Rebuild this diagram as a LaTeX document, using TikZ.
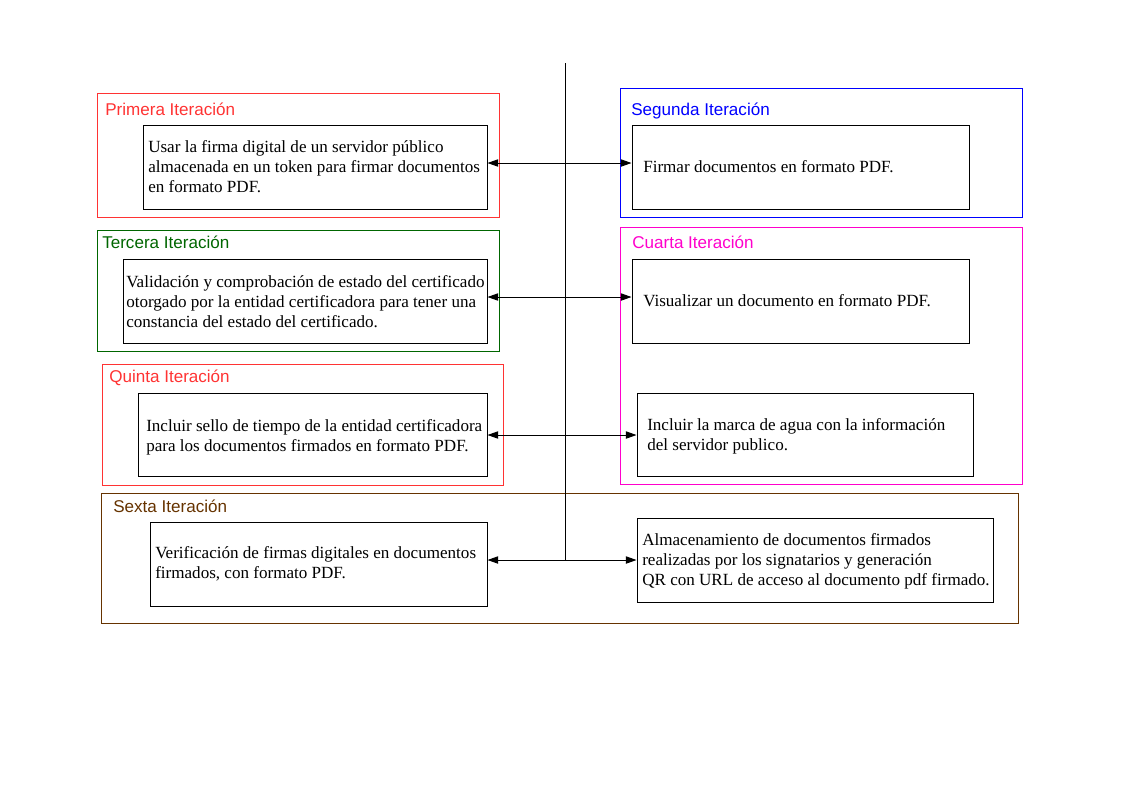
\documentclass[tikz,border=0pt]{standalone}
\usepackage{fontspec}
\setmainfont{Liberation Serif}
\newfontfamily\itersans{Liberation Sans}
\usepackage{tikz}
\usetikzlibrary{positioning,fit,arrows.meta}

\definecolor{itred}{HTML}{FF3333}
\definecolor{itblue}{HTML}{0000FF}
\definecolor{itgreen}{HTML}{006600}
\definecolor{itmagenta}{HTML}{FF00CC}
\definecolor{itbrown}{HTML}{663300}

\begin{document}
\begin{tikzpicture}[x=0.75pt,y=-0.75pt]
        \tikzstyle{frame}=[draw, inner sep=0pt, line width=0.75pt]
        \tikzstyle{box}=[draw, inner sep=0pt, line width=0.75pt]
        \tikzstyle{ttl}=[anchor=base west, inner sep=0pt, font=\itersans\fontsize{12.8}{15}\selectfont]
        \tikzstyle{txt}=[anchor=base west, inner sep=0pt, align=left, font=\fontsize{12.8}{15}\selectfont]
        \tikzstyle{both}=[{Triangle[length=8pt,width=5.5pt]}-{Triangle[length=8pt,width=5.5pt]}, line width=0.7pt]

        \useasboundingbox (0,0) rectangle (1123,794);

        % iteration frames
        \node[frame, draw=itred,     fit={(97,93) (499,217)}]   (f1) {};
        \node[frame, draw=itblue,    fit={(620,88) (1022,217)}] (f2) {};
        \node[frame, draw=itgreen,   fit={(97,230) (499,351)}]  (f3) {};
        \node[frame, draw=itmagenta, fit={(620,227) (1022,484)}] (f4) {};
        \node[frame, draw=itred,     fit={(102,364) (503,485)}] (f5) {};
        \node[frame, draw=itbrown,   fit={(101,493) (1018,623)}] (f6) {};

        \node[ttl, text=itred]     (n1) at (105,115) {Primera Iteración};
        \node[ttl, text=itblue]    (n2) at (631,115) {Segunda Iteración};
        \node[ttl, text=itgreen]   (n3) at (102,248) {Tercera Iteración};
        \node[ttl, text=itmagenta] (n4) at (632,248) {Cuarta Iteración};
        \node[ttl, text=itred]     (n5) at (109,382) {Quinta Iteración};
        \node[ttl, text=itbrown]   (n6) at (113,512) {Sexta Iteración};

        % task boxes
        \node[box, fit={(143,125) (487,209)}] (b1) {};
        \node[box, fit={(632,125) (969,209)}] (b2) {};
        \node[box, fit={(123,259) (487,343)}] (b3) {};
        \node[box, fit={(632,259) (969,343)}] (b4) {};
        \node[box, fit={(138,393) (487,476)}] (b5) {};
        \node[box, fit={(637,393) (973,476)}] (b6) {};
        \node[box, fit={(150,522) (487,606)}] (b7) {};
        \node[box, fit={(637,518) (993,602)}] (b8) {};

        \node[txt] (t1) at (148,192) {Usar la firma digital de un servidor público\\almacenada en un token para firmar documentos\\en formato PDF.};
        \node[txt] (t2) at (643,172) {Firmar documentos en formato PDF.};
        \node[txt] (t3) at (126,327) {Validación y comprobación de estado del certificado\\otorgado por la entidad certificadora para tener una\\constancia del estado del certificado.};
        \node[txt] (t4) at (643,306) {Visualizar un documento en formato PDF.};
        \node[txt] (t5) at (146,451) {Incluir sello de tiempo de la entidad certificadora\\para los documentos firmados en formato PDF.};
        \node[txt] (t6) at (647,450) {Incluir la marca de agua con la información\\del servidor publico.};
        \node[txt] (t7) at (155,578) {Verificación de firmas digitales en documentos\\firmados, con formato PDF.};
        \node[txt] (t8) at (642,585) {Almacenamiento de documentos firmados\\realizadas por los signatarios y generación\\QR con URL de acceso al documento pdf firmado.};

        % spine and links
        \coordinate (top) at (565,63);
        \coordinate (s1) at (565,163);
        \coordinate (s2) at (565,297);
        \coordinate (s3) at (565,435);
        \coordinate (s4) at (565,560);
        \draw[line width=0.7pt] (top) -- (s4);

        \draw[both] (b1.east |- s1) -- (b2.west |- s1);
        \draw[both] (b3.east |- s2) -- (b4.west |- s2);
        \draw[both] (b5.east |- s3) -- (b6.west |- s3);
        \draw[both] (b7.east |- s4) -- (b8.west |- s4);
    \end{tikzpicture}
\end{document}
